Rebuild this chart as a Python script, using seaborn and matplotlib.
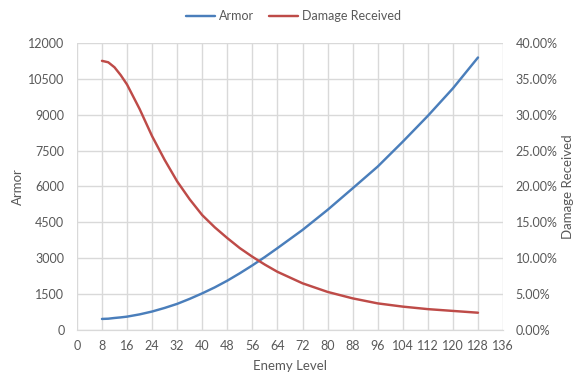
import numpy as np
import pandas as pd
import matplotlib
matplotlib.use("Agg")
import matplotlib.pyplot as plt
import seaborn as sns
from matplotlib.ticker import FuncFormatter, MultipleLocator

# values
levels = [8, 10, 12, 14, 16, 20, 24, 28, 32, 36, 40, 44, 48, 52, 56, 60, 64,
          72, 80, 88, 96, 104, 112, 120, 128]
armor = [460, 470, 500, 525, 556, 650, 770, 920, 1090, 1300, 1530, 1780, 2060, 2370, 2700, 3050, 3420,
         4180, 5020, 5920, 6830, 7870, 8950, 10100, 11390]
damage = [37.5, 37.3, 36.6, 35.5, 34.2, 30.8, 27.0, 23.7, 20.7, 18.2, 16.0, 14.3, 12.8, 11.4, 10.2, 9.1, 8.1,
          6.5, 5.3, 4.4, 3.7, 3.25, 2.9, 2.65, 2.4]

df = pd.DataFrame({"Enemy Level": levels, "Armor": armor, "Damage Received": np.array(damage) / 100})

sns.set_style("white")
plt.rcParams["font.family"] = ["Lato", "DejaVu Sans"]

text_col = "#595959"
grid_col = "#D9D9D9"
blue = "#4A7EBB"
red = "#BE4B48"

fig = plt.figure(figsize=(5.87, 3.9), dpi=100)
ax = fig.add_axes([0.131, 0.154, 0.726, 0.736])
ax2 = ax.twinx()

sns.lineplot(data=df, x="Enemy Level", y="Armor", ax=ax, color=blue, linewidth=1.75, label="Armor", legend=False)
sns.lineplot(data=df, x="Enemy Level", y="Damage Received", ax=ax2, color=red, linewidth=1.75,
             label="Damage Received", legend=False)

ax.set_xlim(0, 136)
ax.set_ylim(0, 12000)
ax2.set_ylim(0, 0.40)
ax.xaxis.set_major_locator(MultipleLocator(8))
ax.yaxis.set_major_locator(MultipleLocator(1500))
ax2.yaxis.set_major_locator(MultipleLocator(0.05))
ax2.yaxis.set_major_formatter(FuncFormatter(lambda v, p: f"{v * 100:.2f}%"))

ax.grid(True, color=grid_col, linewidth=1)
ax.set_axisbelow(True)

for a in (ax, ax2):
    for s in ["top", "left", "right"]:
        a.spines[s].set_visible(False)
    a.spines["bottom"].set_color(grid_col)
    a.tick_params(length=0, labelsize=9, labelcolor=text_col)
ax.tick_params(axis="x", pad=7)
ax.tick_params(axis="y", pad=9)
ax2.tick_params(axis="y", pad=9)

ax.set_xlabel("Enemy Level", fontsize=9.5, color=text_col, labelpad=6)
ax.set_ylabel("Armor", fontsize=9.5, color=text_col, labelpad=3)
ax2.set_ylabel("Damage Received", fontsize=9.5, color=text_col, labelpad=3)

h1, l1 = ax.get_legend_handles_labels()
h2, l2 = ax2.get_legend_handles_labels()
fig.legend(h1 + h2, l1 + l2, loc="center", bbox_to_anchor=(0.5, 0.958), ncol=2, frameon=False,
           fontsize=9, labelcolor=text_col, handlelength=2.3, handletextpad=0.3, columnspacing=1.2)

fig.savefig("out.png", dpi=100)
